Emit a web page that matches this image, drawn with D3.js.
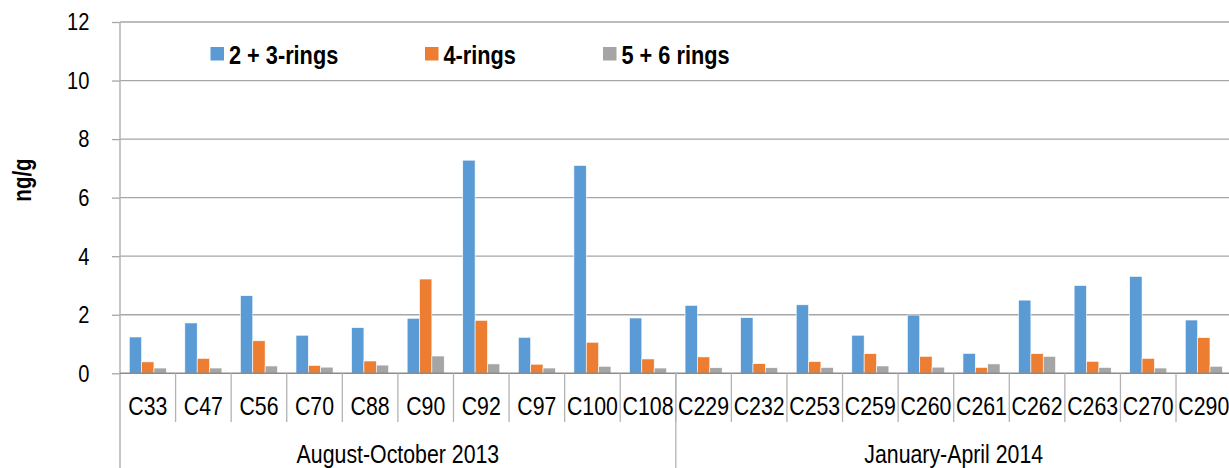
<!DOCTYPE html>
<html>
<head>
<meta charset="utf-8">
<script src="https://cdn.jsdelivr.net/npm/d3@7"></script>
<style>
  body { margin: 0; background: #fff; }
  svg { display: block; font-family: "Liberation Sans", Arial, sans-serif; }
</style>
</head>
<body>
<div id="chart"></div>
<script>
const categories = ["C33", "C47", "C56", "C70", "C88", "C90", "C92", "C97", "C100", "C108",
  "C229", "C232", "C253", "C259", "C260", "C261", "C262", "C263", "C270", "C290"];
const seriesNames = ["2 + 3-rings", "4-rings", "5 + 6 rings"];
const rings23 = [1.24, 1.72, 2.65, 1.30, 1.56, 1.88, 7.28, 1.23, 7.10, 1.89,
  2.32, 1.90, 2.34, 1.30, 1.99, 0.68, 2.50, 3.00, 3.31, 1.82];
const rings4 = [0.39, 0.51, 1.11, 0.27, 0.42, 3.22, 1.81, 0.31, 1.06, 0.49,
  0.56, 0.33, 0.40, 0.67, 0.58, 0.20, 0.67, 0.41, 0.51, 1.22];
const rings56 = [0.18, 0.18, 0.25, 0.21, 0.28, 0.59, 0.32, 0.18, 0.24, 0.18,
  0.19, 0.19, 0.20, 0.25, 0.21, 0.32, 0.58, 0.20, 0.18, 0.24];
const groups = [
  {name: "August-October 2013", first: "C33", last: "C108"},
  {name: "January-April 2014", first: "C229", last: "C290"}
];
const yTicks = [0, 2, 4, 6, 8, 10, 12];
const colors = ["#5b9bd5", "#ed7d31", "#a5a5a5"];

const W = 1229, H = 468;
const plotLeft = 120, plotRight = 1231.6, plotTop = 22, base = 373.3;
const narrow = 0.82; // no narrow font installed, squeeze Liberation Sans instead

const svg = d3.select("#chart").append("svg")
  .attr("width", W)
  .attr("height", H);

const x0 = d3.scaleBand().domain(categories).range([plotLeft, plotRight]).padding(0);
const x1 = d3.scaleBand().domain(seriesNames).range([0, x0.bandwidth()])
  .paddingInner(0).paddingOuter(0.75);
const y = d3.scaleLinear().domain([0, 12]).range([base, plotTop]);

// gridlines
svg.append("g")
  .selectAll("line")
  .data(yTicks.filter(d => d > 0))
  .join("line")
  .attr("x1", plotLeft).attr("x2", W)
  .attr("y1", d => y(d)).attr("y2", d => y(d))
  .attr("stroke", "#a6a6a6")
  .attr("stroke-width", 1.3);

// y axis
const yAxis = svg.append("g")
  .attr("transform", "translate(" + plotLeft + ",0)")
  .call(d3.axisLeft(y).tickValues(yTicks).tickSize(8).tickPadding(24));
yAxis.select(".domain").remove();
yAxis.selectAll(".tick line").attr("stroke", "#a6a6a6").attr("stroke-width", 1.3);
yAxis.selectAll(".tick text")
  .style("font-size", "24.5px")
  .attr("fill", "#000")
  .attr("transform", "translate(-24,0) scale(" + narrow + ",1) translate(24,0)");
svg.append("line")
  .attr("x1", plotLeft).attr("x2", plotLeft)
  .attr("y1", plotTop).attr("y2", H)
  .attr("stroke", "#b3b3b3").attr("stroke-width", 1.5);

// bars
const data = categories.map((c, i) => ({cat: c, vals: [rings23[i], rings4[i], rings56[i]]}));
svg.append("g")
  .selectAll("g")
  .data(data)
  .join("g")
  .attr("transform", d => "translate(" + x0(d.cat) + ",0)")
  .selectAll("rect")
  .data(d => d.vals.map((v, j) => ({name: seriesNames[j], v: v, j: j})))
  .join("rect")
  .attr("x", d => x1(d.name))
  .attr("width", x1.bandwidth())
  .attr("y", d => y(d.v))
  .attr("height", d => y(0) - y(d.v))
  .attr("fill", d => colors[d.j])
  .attr("stroke", "#fff")
  .attr("stroke-width", 0.6);

// x baseline
svg.append("line")
  .attr("x1", plotLeft).attr("x2", W)
  .attr("y1", base).attr("y2", base)
  .attr("stroke", "#8c8c8c").attr("stroke-width", 1.5);

// category separators
svg.append("g")
  .selectAll("line")
  .data(categories.slice(1))
  .join("line")
  .attr("x1", d => x0(d)).attr("x2", d => x0(d))
  .attr("y1", base).attr("y2", 422)
  .attr("stroke", "#b3b3b3").attr("stroke-width", 1.3);

// group separators
svg.append("g")
  .selectAll("line")
  .data(groups.slice(1))
  .join("line")
  .attr("x1", d => x0(d.first)).attr("x2", d => x0(d.first))
  .attr("y1", base).attr("y2", H)
  .attr("stroke", "#b3b3b3").attr("stroke-width", 1.3);

// category labels
svg.append("g")
  .selectAll("text")
  .data(categories)
  .join("text")
  .attr("transform", d => "translate(" + (x0(d) + x0.bandwidth() / 2) + ",415) scale(" + narrow + ",1)")
  .attr("text-anchor", "middle")
  .style("font-size", "26px")
  .text(d => d);

// group labels
svg.append("g")
  .selectAll("text")
  .data(groups)
  .join("text")
  .attr("transform", d => "translate(" + ((x0(d.first) + x0(d.last) + x0.bandwidth()) / 2) + ",463) scale(" + narrow + ",1)")
  .attr("text-anchor", "middle")
  .style("font-size", "26px")
  .text(d => d.name);

// y label
svg.append("text")
  .attr("transform", "translate(31,180) rotate(-90) scale(" + narrow + ",1)")
  .attr("text-anchor", "middle")
  .style("font-size", "25px")
  .style("font-weight", "bold")
  .text("ng/g");

// legend
const legendX = [210.5, 425, 603];
const legend = svg.append("g")
  .selectAll("g")
  .data(seriesNames)
  .join("g")
  .attr("transform", (d, i) => "translate(" + legendX[i] + ",47)");
legend.append("rect")
  .attr("width", 13.5).attr("height", 13.5)
  .attr("fill", (d, i) => colors[i]);
legend.append("text")
  .attr("transform", "translate(18.5,16.5) scale(" + narrow + ",1)")
  .style("font-size", "26.5px")
  .style("font-weight", "bold")
  .text(d => d);
</script>
</body>
</html>
